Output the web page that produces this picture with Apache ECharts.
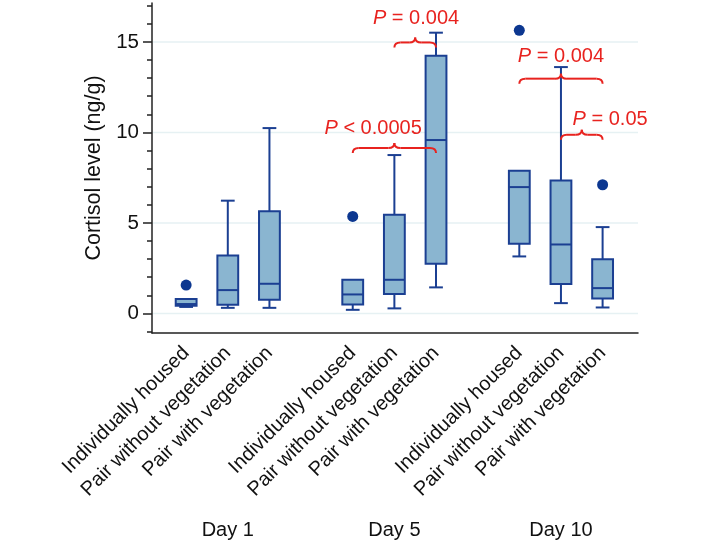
<!DOCTYPE html>
<html>
<head>
<meta charset="utf-8">
<script src="https://cdn.jsdelivr.net/npm/echarts@6/dist/echarts.min.js"></script>
<style>html,body{margin:0;padding:0;background:#fff}#c{width:703px;height:545px}</style>
</head>
<body>
<div id="c"></div>
<script>
// ---- data ----
var positions = [1, 2, 3, 5, 6, 7, 9, 10, 11];
var groupNames = ['Individually housed', 'Pair without vegetation', 'Pair with vegetation',
                  'Individually housed', 'Pair without vegetation', 'Pair with vegetation',
                  'Individually housed', 'Pair without vegetation', 'Pair with vegetation'];
var dayPositions = [2, 6, 10];
var dayNames = ['Day 1', 'Day 5', 'Day 10'];
var lowWhisker  = [0.36, 0.31, 0.31, 0.20, 0.28, 1.44, 3.15, 0.57, 0.33];
var q1          = [0.43, 0.48, 0.76, 0.50, 1.07, 2.75, 3.85, 1.62, 0.83];
var median      = [0.52, 1.29, 1.64, 1.05, 1.86, 9.58, 6.98, 3.81, 1.40];
var q3          = [0.80, 3.20, 5.64, 1.86, 5.45, 14.24, 7.88, 7.35, 3.00];
var highWhisker = [0.80, 6.23, 10.24, 1.86, 8.75, 15.51, 7.88, 13.61, 4.77];
var outlierPos  = [1, 5, 9, 11];
var outlierVal  = [1.57, 5.36, 15.64, 7.11];
var yTicks = [0, 5, 10, 15];
var yMinorTicks = [-1, 1, 2, 3, 4, 6, 7, 8, 9, 11, 12, 13, 14, 16, 17];
// brackets: from, to, y level; label position and text
var brStart = [5, 6, 9, 10];
var brEnd   = [7, 7, 11, 11];
var brY     = [9.14, 14.97, 12.97, 9.87];
var lbX     = [5.49, 6.52, 10.0, 11.18];
var lbY     = [10.24, 16.32, 14.2, 10.7];
var lbText  = ['< 0.0005', '= 0.004', '= 0.004', '= 0.05'];

var FONT = '"Liberation Sans", Arial, Helvetica, sans-serif';
var BLUE = '#1b3f92';
var FILL = '#8ab5d0';
var RED = '#e8231f';

var boxData = positions.map(function (p, i) {
  return [p, lowWhisker[i], q1[i], median[i], q3[i], highWhisker[i]];
});
var outData = outlierPos.map(function (p, i) { return [p, outlierVal[i]]; });
var brData = brStart.map(function (s, i) { return [s, brEnd[i], brY[i], lbX[i], lbY[i], i]; });

function nameAt(v) {
  var i = positions.indexOf(Math.round(v));
  return i >= 0 ? groupNames[i] : '';
}
function dayAt(v) {
  var i = dayPositions.indexOf(Math.round(v));
  return i >= 0 ? dayNames[i] : '';
}

var chart = echarts.init(document.getElementById('c'), null, { renderer: 'canvas' });
var option = {
  animation: false,
  textStyle: { fontFamily: FONT },
  grid: { left: 152, right: 65, top: 3, bottom: 212 },
  xAxis: [{
    type: 'value', min: 0.18, max: 11.85,
    axisLine: { show: true, onZero: false, lineStyle: { color: '#222', width: 1.5 } },
    axisTick: { show: false },
    splitLine: { show: false },
    axisLabel: {
      customValues: positions, rotate: 45, margin: 17,
      fontSize: 20, color: '#111', fontFamily: FONT,
      formatter: function (v) { return nameAt(v); }
    }
  }, {
    type: 'value', min: 0.18, max: 11.85, position: 'bottom',
    axisLine: { show: false }, axisTick: { show: false }, splitLine: { show: false },
    axisLabel: {
      customValues: dayPositions, margin: 187, fontSize: 20, color: '#111', fontFamily: FONT,
      formatter: function (v) { return dayAt(v); }
    }
  }],
  yAxis: [{
    type: 'value', min: -1.08, max: 17.15,
    name: 'Cortisol level (ng/g)', nameLocation: 'middle', nameGap: 47,
    nameTextStyle: { fontSize: 21.5, color: '#111', fontFamily: FONT },
    axisLine: { show: true, onZero: false, lineStyle: { color: '#222', width: 1.5 } },
    axisTick: { show: true, customValues: yTicks, length: 9, lineStyle: { color: '#222', width: 1.5 } },
    axisLabel: { customValues: yTicks, margin: 13, fontSize: 20.5, color: '#111', fontFamily: FONT },
    splitLine: { show: false }
  }, {
    type: 'value', min: -1.08, max: 17.15, position: 'left',
    axisLine: { show: false },
    axisTick: { show: true, customValues: yMinorTicks, length: 5, lineStyle: { color: '#222', width: 1.5 } },
    axisLabel: { show: false },
    splitLine: { show: false }
  }],
  series: [{
    type: 'custom',
    xAxisIndex: 0, yAxisIndex: 0,
    data: yTicks.map(function (t) { return [t]; }),
    silent: true, z: 1,
    renderItem: function (params, api) {
      var v = api.value(0);
      var a = api.coord([0.18, v]);
      var b = api.coord([11.85, v]);
      return { type: 'line', shape: { x1: a[0] + 1, y1: a[1], x2: b[0], y2: b[1] },
               style: { stroke: '#e6f1f3', lineWidth: 1.5 } };
    }
  }, {
    type: 'custom',
    xAxisIndex: 0, yAxisIndex: 0,
    data: boxData, z: 3,
    renderItem: function (params, api) {
      var x = api.value(0);
      var pLow = api.coord([x, api.value(1)]);
      var pQ1 = api.coord([x, api.value(2)]);
      var pMed = api.coord([x, api.value(3)]);
      var pQ3 = api.coord([x, api.value(4)]);
      var pHigh = api.coord([x, api.value(5)]);
      var w = api.size([0.5, 0])[0];
      var cw = api.size([0.33, 0])[0];
      var cx = pQ1[0];
      var ls = { stroke: BLUE, lineWidth: 2, fill: null };
      var ch = [
        { type: 'line', shape: { x1: cx, y1: pQ1[1], x2: cx, y2: pLow[1] }, style: ls },
        { type: 'line', shape: { x1: cx - cw / 2, y1: pLow[1], x2: cx + cw / 2, y2: pLow[1] }, style: ls },
        { type: 'rect', shape: { x: cx - w / 2, y: pQ3[1], width: w, height: pQ1[1] - pQ3[1] },
          style: { fill: FILL, stroke: BLUE, lineWidth: 2 } },
        { type: 'line', shape: { x1: cx - w / 2, y1: pMed[1], x2: cx + w / 2, y2: pMed[1] }, style: ls }
      ];
      if (pHigh[1] < pQ3[1] - 0.5) {
        ch.push({ type: 'line', shape: { x1: cx, y1: pQ3[1], x2: cx, y2: pHigh[1] }, style: ls });
        ch.push({ type: 'line', shape: { x1: cx - cw / 2, y1: pHigh[1], x2: cx + cw / 2, y2: pHigh[1] }, style: ls });
      }
      return { type: 'group', children: ch };
    }
  }, {
    type: 'scatter',
    xAxisIndex: 0, yAxisIndex: 0,
    data: outData, symbol: 'circle', symbolSize: 11, z: 4,
    itemStyle: { color: '#0c3790', opacity: 1 }
  }, {
    type: 'custom',
    xAxisIndex: 0, yAxisIndex: 0,
    data: brData, z: 5,
    renderItem: function (params, api) {
      var y = api.value(2);
      var a = api.coord([api.value(0), y]);
      var b = api.coord([api.value(1), y]);
      var m = (a[0] + b[0]) / 2;
      var yy = a[1];
      var r = 6, d = 5, pk = 5;
      var st = { stroke: RED, lineWidth: 2, fill: null };
      var lp = api.coord([api.value(3), api.value(4)]);
      var idx = api.value(5);
      return { type: 'group', children: [
        { type: 'bezierCurve', shape: { x1: a[0], y1: yy + d, cpx1: a[0], cpy1: yy, x2: a[0] + r, y2: yy }, style: st },
        { type: 'line', shape: { x1: a[0] + r, y1: yy, x2: m - r, y2: yy }, style: st },
        { type: 'bezierCurve', shape: { x1: m - r, y1: yy, cpx1: m, cpy1: yy, x2: m, y2: yy - pk }, style: st },
        { type: 'bezierCurve', shape: { x1: m, y1: yy - pk, cpx1: m, cpy1: yy, x2: m + r, y2: yy }, style: st },
        { type: 'line', shape: { x1: m + r, y1: yy, x2: b[0] - r, y2: yy }, style: st },
        { type: 'bezierCurve', shape: { x1: b[0] - r, y1: yy, cpx1: b[0], cpy1: yy, x2: b[0], y2: yy + d }, style: st },
        { type: 'text', x: lp[0], y: lp[1],
          style: { text: '{i|P} ' + lbText[idx], fill: RED, fontSize: 20, fontFamily: FONT,
                   align: 'center', verticalAlign: 'middle',
                   rich: { i: { fontStyle: 'italic', fontSize: 20, fill: RED, fontFamily: FONT } } } }
      ] };
    }
  }]
};
chart.setOption(option);
</script>
</body>
</html>
